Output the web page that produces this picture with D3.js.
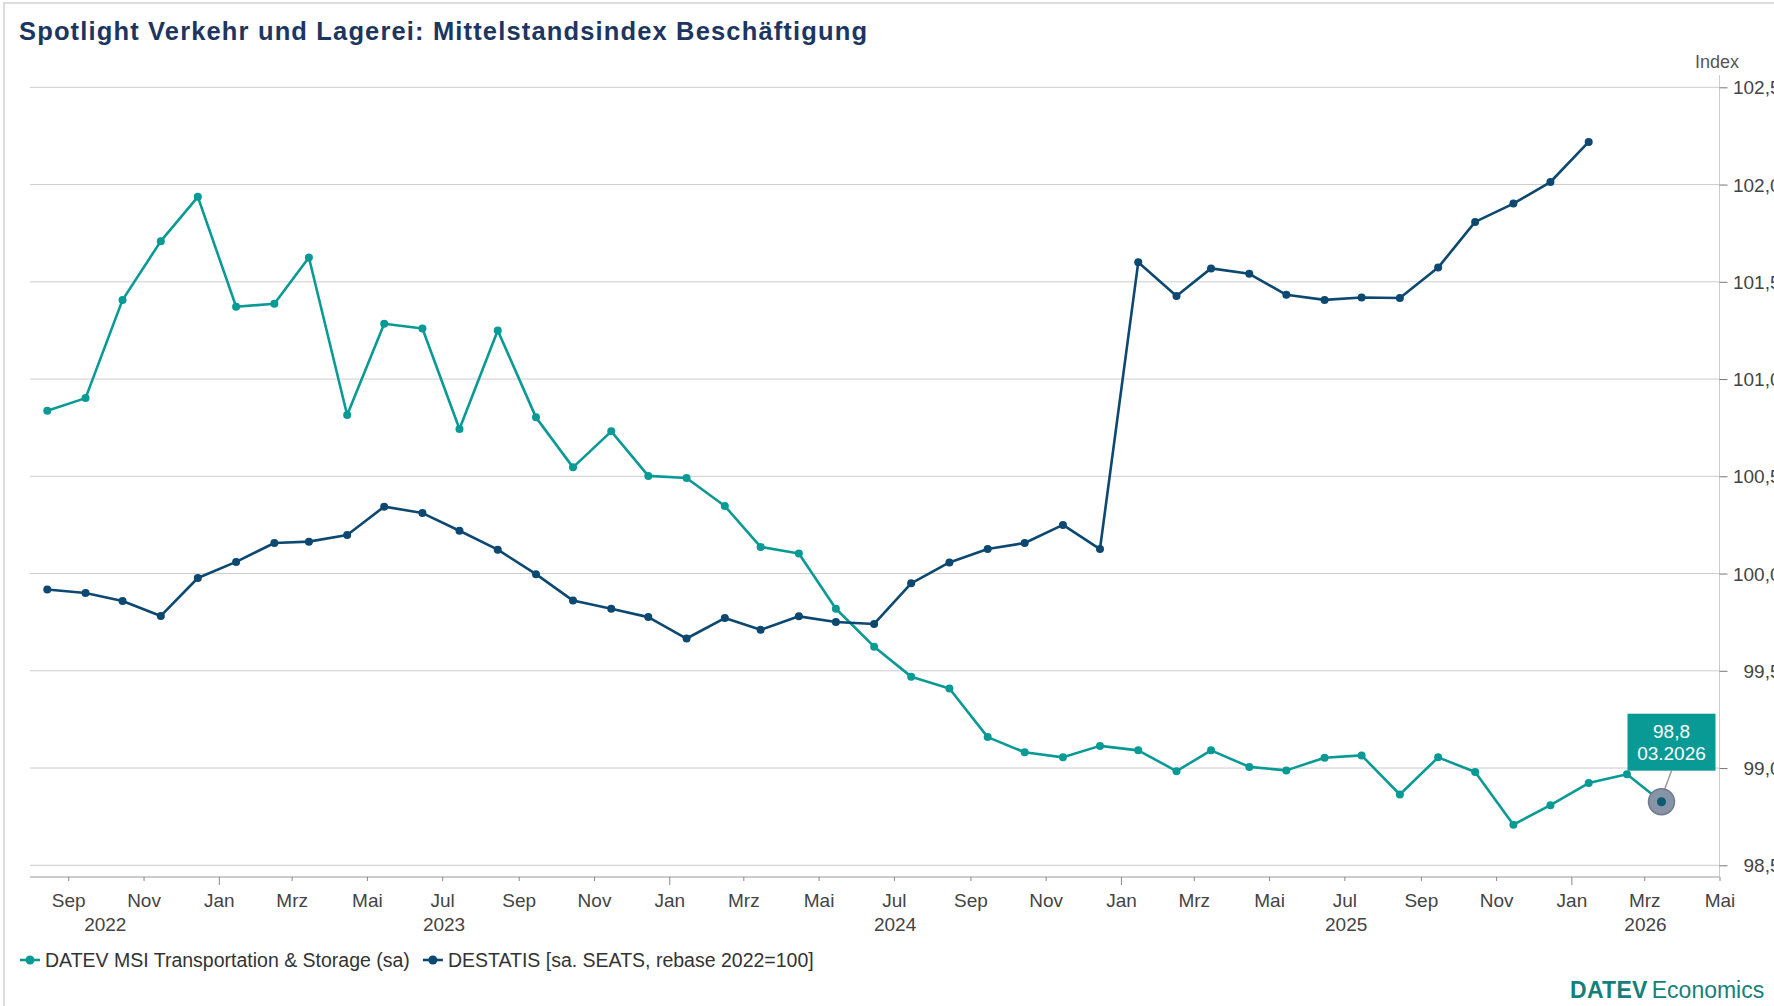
<!DOCTYPE html>
<html>
<head>
<meta charset="utf-8">
<script src="https://cdn.jsdelivr.net/npm/d3@7"></script>
<style>
  html, body { margin: 0; padding: 0; background: #fff; overflow: hidden; }
  svg { display: block; font-family: "Liberation Sans", Arial, sans-serif; }
</style>
</head>
<body>
<script>
// Monate (Monatsmitte), DATEV MSI und DESTATIS
var months = ["2022-08", "2022-09", "2022-10", "2022-11", "2022-12",
  "2023-01", "2023-02", "2023-03", "2023-04", "2023-05", "2023-06", "2023-07", "2023-08", "2023-09", "2023-10", "2023-11", "2023-12",
  "2024-01", "2024-02", "2024-03", "2024-04", "2024-05", "2024-06", "2024-07", "2024-08", "2024-09", "2024-10", "2024-11", "2024-12",
  "2025-01", "2025-02", "2025-03", "2025-04", "2025-05", "2025-06", "2025-07", "2025-08", "2025-09", "2025-10", "2025-11", "2025-12",
  "2026-01", "2026-02", "2026-03"];
var datevMsi = [100.837, 100.902, 101.407, 101.709, 101.937,
  101.372, 101.387, 101.625, 100.815, 101.284, 101.260, 100.743, 101.250, 100.803, 100.546, 100.731, 100.502,
  100.491, 100.347, 100.137, 100.103, 99.819, 99.624, 99.470, 99.409, 99.159, 99.081, 99.055, 99.114,
  99.091, 98.984, 99.091, 99.006, 98.988, 99.053, 99.065, 98.864, 99.055, 98.980, 98.709, 98.809,
  98.923, 98.968, 98.827];
var destatis = [99.918, 99.900, 99.859, 99.782, 99.977,
  100.060, 100.157, 100.164, 100.198, 100.344, 100.311, 100.220, 100.123, 99.997, 99.861, 99.819, 99.776,
  99.666, 99.771, 99.711, 99.780, 99.751, 99.741, 99.950, 100.057, 100.126, 100.157, 100.250, 100.126,
  101.600, 101.427, 101.569, 101.541, 101.433, 101.407, 101.419, 101.417, 101.573, 101.808, 101.902, 102.013,
  102.219];
var seriesNames = ["DATEV MSI Transportation & Storage (sa)", "DESTATIS [sa. SEATS, rebase 2022=100]"];
var monthNames = ["Jan", "Feb", "Mrz", "Apr", "Mai", "Jun", "Jul", "Aug", "Sep", "Okt", "Nov", "Dez"];
var yTicks = [98.5, 99.0, 99.5, 100.0, 100.5, 101.0, 101.5, 102.0, 102.5];
// Jahreslabels: Jahr und Zeitraum, über dessen Mitte es steht
var yearLabels = ["2022", "2023", "2024", "2025", "2026"];
var yearSpans = [["2022-07", "2023-01"], ["2023-01", "2024-01"], ["2024-01", "2025-01"], ["2025-01", "2026-01"], ["2026-01", "2026-05"]];

var W = 1774, H = 1006;
var teal = "#0a9a95", navy = "#0c4870", grid = "#cccccc";
var de = d3.formatLocale({ decimal: ",", thousands: ".", grouping: [3], currency: ["", " €"] });
var fmt1 = de.format(".1f");
var parseM = d3.timeParse("%Y-%m");
var mid = function (s) { var d = parseM(s); d.setDate(15); return d; };

var svg = d3.select("body").append("svg").attr("width", W).attr("height", H);

// Rahmen
svg.append("rect").attr("x", 4).attr("y", 3).attr("width", W + 20).attr("height", H + 20)
  .attr("fill", "#fff").attr("stroke", "#dcdcdc").attr("stroke-width", 2);

svg.append("text").attr("x", 19).attr("y", 40)
  .attr("font-size", 25.5).attr("font-weight", "bold").attr("letter-spacing", 1.15).attr("fill", "#1c3660")
  .text("Spotlight Verkehr und Lagerei: Mittelstandsindex Beschäftigung");

var plotTop = 75, plotBottom = 877;
var x = d3.scaleTime().domain([new Date(2022, 7, 1), new Date(2026, 4, 1)]).range([30, 1719.5]);
var y = d3.scaleLinear().domain([98.5, 102.5]).range([865.3, 87.3]);

// Gitterlinien
svg.append("g").selectAll("line").data(yTicks).enter().append("line")
  .attr("x1", 30).attr("x2", x.range()[1])
  .attr("y1", function (d) { return y(d); }).attr("y2", function (d) { return y(d); })
  .attr("stroke", grid).attr("stroke-width", 1);

// rechte Achse
svg.append("line").attr("x1", x.range()[1]).attr("x2", x.range()[1])
  .attr("y1", plotTop).attr("y2", plotBottom).attr("stroke", grid);
var yAxis = svg.append("g").attr("transform", "translate(" + x.range()[1] + ",0)")
  .call(d3.axisRight(y).tickValues(yTicks).tickSize(8).tickFormat(fmt1));
yAxis.select(".domain").remove();
yAxis.selectAll(".tick line").attr("stroke", "#777");
yAxis.selectAll(".tick text").attr("x", 61).attr("text-anchor", "end").attr("dy", "0.35em")
  .attr("font-size", 19).attr("fill", "#444").attr("font-family", "Liberation Sans, Arial, sans-serif");
svg.append("text").attr("x", 1695).attr("y", 62).attr("dy", "0.35em")
  .attr("font-size", 18).attr("fill", "#555").text("Index");

// untere Achse
svg.append("line").attr("x1", 30).attr("x2", x.range()[1]).attr("y1", plotBottom).attr("y2", plotBottom)
  .attr("stroke", grid).attr("stroke-width", 2);
var xAxis = svg.append("g").attr("transform", "translate(0," + plotBottom + ")")
  .call(d3.axisBottom(x).ticks(d3.timeMonth.every(2)).tickSize(4)
    .tickFormat(function (d) { return monthNames[d.getMonth()]; }));
xAxis.select(".domain").remove();
xAxis.selectAll(".tick line").attr("stroke", "#888")
  .attr("y2", function (d) { return d.getMonth() === 0 ? 8 : 4; });
xAxis.selectAll(".tick text").attr("y", 23).attr("dy", "0.35em")
  .attr("font-size", 19).attr("fill", "#444").attr("font-family", "Liberation Sans, Arial, sans-serif");

// Jahresbeschriftung
svg.append("g").selectAll("text").data(yearLabels).enter().append("text")
  .attr("x", function (d, i) {
    var a = +parseM(yearSpans[i][0]), b = +parseM(yearSpans[i][1]);
    return x(new Date((a + b) / 2));
  })
  .attr("y", 924).attr("dy", "0.35em").attr("text-anchor", "middle")
  .attr("font-size", 19).attr("fill", "#444").text(function (d) { return d; });

// Linien
var series = [
  { name: seriesNames[0], color: teal, values: datevMsi },
  { name: seriesNames[1], color: navy, values: destatis }
];
var line = d3.line().x(function (d) { return x(d.date); }).y(function (d) { return y(d.value); });
series.forEach(function (s) {
  var pts = s.values.map(function (v, i) { return { date: mid(months[i]), value: v }; });
  s.pts = pts;
  var g = svg.append("g");
  g.append("path").datum(pts).attr("d", line).attr("fill", "none")
    .attr("stroke", s.color).attr("stroke-width", 2.6).attr("stroke-linejoin", "round");
  g.selectAll("circle").data(pts).enter().append("circle")
    .attr("cx", function (d) { return x(d.date); }).attr("cy", function (d) { return y(d.value); })
    .attr("r", 4).attr("fill", s.color);
});

// Tooltip am letzten Punkt
var last = series[0].pts[series[0].pts.length - 1];
var lx = x(last.date), ly = y(last.value);
svg.append("line").attr("x1", lx + 3).attr("y1", ly - 12).attr("x2", lx + 10).attr("y2", ly - 31)
  .attr("stroke", "#999").attr("stroke-width", 1.5);
svg.append("circle").attr("cx", lx).attr("cy", ly).attr("r", 13)
  .attr("fill", "#8794a8").attr("stroke", "#6f7b8d").attr("stroke-width", 1.5);
svg.append("circle").attr("cx", lx).attr("cy", ly).attr("r", 4.5).attr("fill", "#0c5a72");
var bx = lx - 34, by = ly - 88;
svg.append("rect").attr("x", bx).attr("y", by).attr("width", 88).attr("height", 57).attr("fill", teal);
svg.append("text").attr("x", bx + 44).attr("y", by + 18).attr("dy", "0.35em").attr("text-anchor", "middle")
  .attr("font-size", 19).attr("fill", "#fff").text(fmt1(last.value));
svg.append("text").attr("x", bx + 44).attr("y", by + 40).attr("dy", "0.35em").attr("text-anchor", "middle")
  .attr("font-size", 19).attr("fill", "#fff").text(d3.timeFormat("%m.%Y")(last.date));

// Legende
var lg = svg.append("g").attr("transform", "translate(20,960)");
var lxPos = 0;
series.forEach(function (s) {
  var item = lg.append("g").attr("transform", "translate(" + lxPos + ",0)");
  item.append("line").attr("x1", 0).attr("x2", 20).attr("y1", 0).attr("y2", 0)
    .attr("stroke", s.color).attr("stroke-width", 2.6);
  item.append("circle").attr("cx", 10).attr("cy", 0).attr("r", 4.5).attr("fill", s.color);
  var t = item.append("text").attr("x", 25).attr("dy", "0.35em").attr("font-size", 19.5)
    .attr("fill", "#333").text(s.name);
  lxPos += 25 + t.node().getComputedTextLength() + 13;
});

// Logo
var logo = svg.append("text").attr("x", 1570).attr("y", 998).attr("font-size", 23).attr("fill", "#15807b");
logo.append("tspan").attr("font-weight", "bold").attr("letter-spacing", 0.3).text("DATEV");
logo.append("tspan").attr("dx", 4).text("Economics");
</script>
</body>
</html>
